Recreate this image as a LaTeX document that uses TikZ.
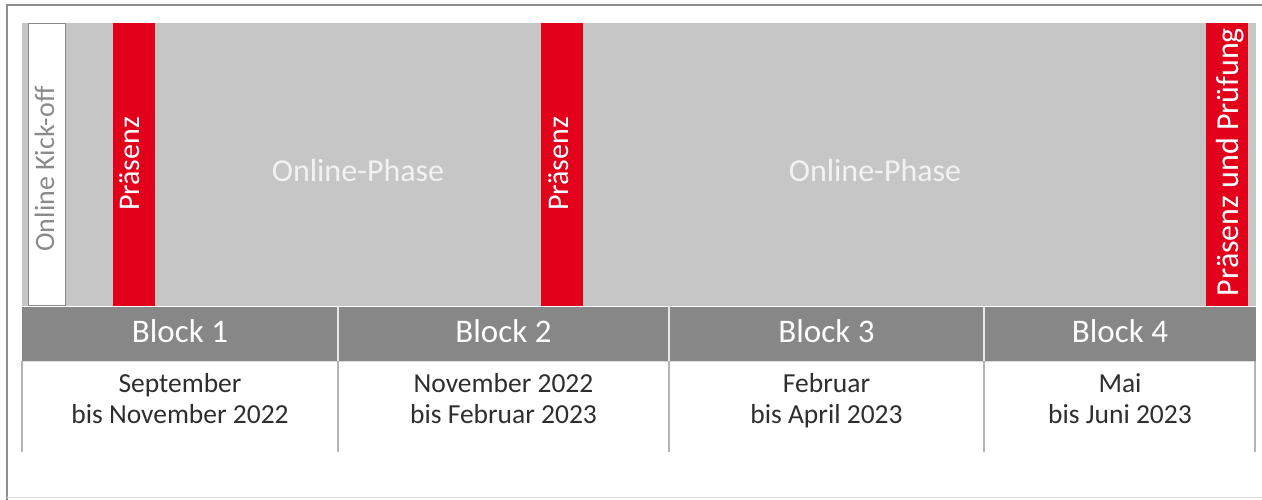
\documentclass[tikz,border=0pt]{standalone}
\usepackage{fontspec}
\setmainfont{Carlito}
\definecolor{hsred}{HTML}{E2001A}
\definecolor{phasegray}{HTML}{C6C6C6}
\definecolor{bandgray}{HTML}{878787}
\definecolor{framegray}{HTML}{8E8E8E}
\definecolor{sepgray}{HTML}{B4B4B4}
\definecolor{kickgray}{HTML}{8A8A8A}
\definecolor{datetext}{HTML}{2E2E2E}
\definecolor{phasetext}{HTML}{F2F2F2}
\begin{document}
\begin{tikzpicture}[x=1pt,y=-1pt,
  area/.style={inner sep=0pt, outer sep=0pt, anchor=north west},
  redbar/.style={area, fill=hsred, minimum width=42pt, minimum height=283pt},
  bandcell/.style={area, fill=bandgray, minimum height=55pt},
  vlabel/.style={rotate=90, anchor=base, inner sep=0pt, font=\fontsize{30}{34}\selectfont},
  blocklabel/.style={anchor=base, inner sep=0pt, text=white, font=\fontsize{33}{38}\selectfont},
  datelabel/.style={align=center, inner sep=0pt, text=datetext, font=\fontsize{27.5}{31}\selectfont},
  phaselabel/.style={anchor=base, inner sep=0pt, text=phasetext, font=\fontsize{32}{36}\selectfont},
  sep/.style={draw=sepgray, line width=1.5pt}
]
\useasboundingbox (0,0) rectangle (1262,500);
% outer frame
\coordinate (ftl) at (7,5);
\coordinate (ftr) at (1262,5);
\coordinate (fbl) at (7,500);
\draw[framegray, line width=2.5pt] (ftr) -- (ftl) -- (fbl);
\coordinate (bl1) at (7,497);
\coordinate (bl2) at (1262,497);
\draw[gray!25, line width=1pt] (bl1) -- (bl2);

% phase area
\node[area, fill=phasegray, minimum width=1234pt, minimum height=283pt] (phase) at (22,23) {};
\node[area, draw=kickgray, fill=white, line width=1pt, minimum width=37pt, minimum height=281pt] (kick) at (28,24) {};
\node[redbar] (p1) at (113,23) {};
\node[redbar] (p2) at (541,23) {};
\node[redbar] (p3) at (1206,23) {};

\node[vlabel, text=kickgray, font=\fontsize{28}{32}\selectfont] (tkick) at (54,169) {Online Kick-off};
\node[vlabel, text=white] (tp1) at (139,164) {Präsenz};
\node[vlabel, text=white] (tp2) at (568,164) {Präsenz};
\node[vlabel, text=white, font=\fontsize{32}{36}\selectfont] (tp3) at (1238,162) {Präsenz und Prüfung};

\node[phaselabel] (ph1) at (358,182) {Online-Phase};
\node[phaselabel] (ph2) at (875,182) {Online-Phase};

% block band
\node[bandcell, minimum width=316pt] (b1) at (22,306) {};
\node[bandcell, minimum width=331pt] (b2) at (338,306) {};
\node[bandcell, minimum width=315pt] (b3) at (669,306) {};
\node[bandcell, minimum width=272pt] (b4) at (984,306) {};
\draw[white, line width=1pt] (b1.north west) -- (b4.north east);
\draw[white!80!bandgray, line width=1.2pt] (b2.north west) -- (b2.south west);
\draw[white!80!bandgray, line width=1.2pt] (b3.north west) -- (b3.south west);
\draw[white!80!bandgray, line width=1.2pt] (b4.north west) -- (b4.south west);
\draw[white!70!bandgray, line width=1pt] (b1.south west) -- (b4.south east);

\node[blocklabel] (l1) at ([yshift=-36pt]b1.north) {Block 1};
\node[blocklabel] (l2) at ([yshift=-36pt]b2.north) {Block 2};
\node[blocklabel] (l3) at ([yshift=-36pt]b3.north) {Block 3};
\node[blocklabel] (l4) at ([yshift=-36pt]b4.north) {Block 4};

% separators below
\draw[sep] (b1.south west) -- ++(0,91);
\draw[sep] (b2.south west) -- ++(0,91);
\draw[sep] (b3.south west) -- ++(0,91);
\draw[sep] (b4.south west) -- ++(0,91);
\draw[sep] ([xshift=-1pt]b4.south east) -- ++(0,91);

% dates
\node[datelabel] (d1) at ([yshift=-41pt]b1.south) {\strut September\\\strut bis November 2022};
\node[datelabel] (d2) at ([yshift=-41pt]b2.south) {\strut November 2022\\\strut bis Februar 2023};
\node[datelabel] (d3) at ([yshift=-41pt]b3.south) {\strut Februar\\\strut bis April 2023};
\node[datelabel] (d4) at ([yshift=-41pt]b4.south) {\strut Mai\\\strut bis Juni 2023};
\end{tikzpicture}
\end{document}
